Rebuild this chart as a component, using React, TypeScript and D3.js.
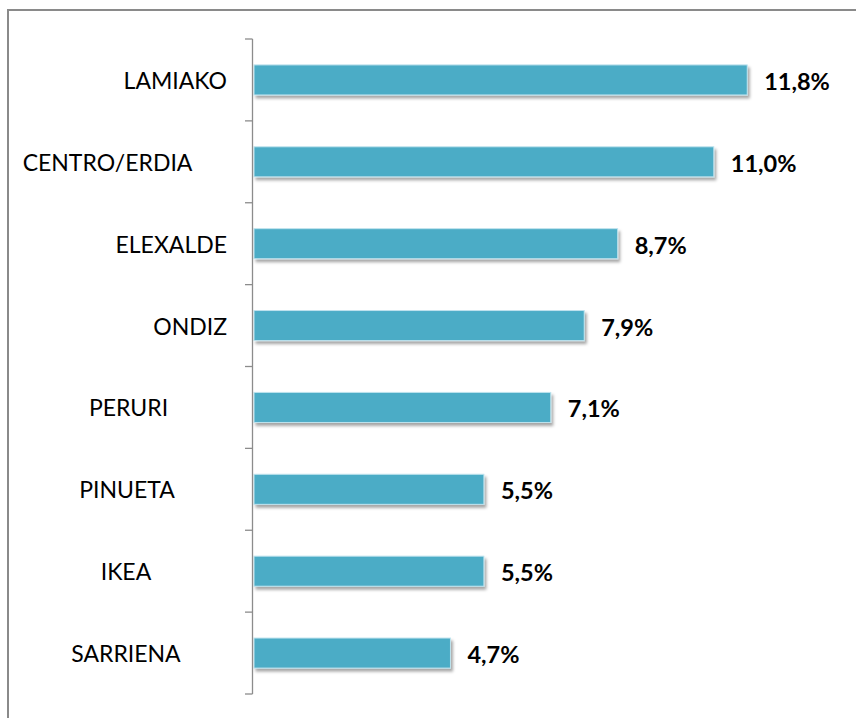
import React from "react";
import * as d3 from "d3";

const categories = [
  "LAMIAKO",
  "CENTRO/ERDIA      ",
  "ELEXALDE",
  "ONDIZ",
  "PERURI          ",
  "PINUETA         ",
  "IKEA             ",
  "SARRIENA        ",
];
const values = [11.8, 11.0, 8.7, 7.9, 7.1, 5.5, 5.5, 4.7];
const valueLabels = ["11,8%", "11,0%", "8,7%", "7,9%", "7,1%", "5,5%", "5,5%", "4,7%"];

const W = 856;
const H = 718;

export default function App() {
  const x = d3.scaleLinear().domain([0, 14]).range([254, 254 + 41.8 * 14]);
  const y = d3
    .scaleBand<number>()
    .domain(d3.range(categories.length))
    .range([39, 694])
    .paddingInner(0.633)
    .paddingOuter(0.3165);
  const step = y.step();
  const axisX = 252.5;
  const ticks = d3.range(categories.length + 1).map((i) => 39 + i * step);
  const font = "Lato, 'Open Sans', sans-serif";

  return (
    <svg
      width={W}
      height={H}
      style={{ position: "absolute", left: 0, top: 0, display: "block", background: "#fff" }}
    >
      <defs>
        <filter id="shadow" x="-5%" y="-30%" width="115%" height="180%">
          <feDropShadow dx="2" dy="3" stdDeviation="1.6" floodColor="#000" floodOpacity="0.35" />
        </filter>
      </defs>
      <rect x={8} y={10} width={W + 40} height={H + 40} fill="#fff" stroke="#8a8a8a" strokeWidth={2} />
      {values.map((v, i) => (
        <rect
          key={i}
          x={x(0)}
          y={y(i)!}
          width={x(v) - x(0)}
          height={y.bandwidth()}
          fill="#4BACC6"
          stroke="#bfe3ee"
          strokeWidth={1}
          filter="url(#shadow)"
        />
      ))}
      <line x1={axisX} x2={axisX} y1={39} y2={694} stroke="#8c8c8c" strokeWidth={1.3} />
      {ticks.map((t, i) => (
        <line key={i} x1={245} x2={axisX} y1={t} y2={t} stroke="#8c8c8c" strokeWidth={1.3} />
      ))}
      {categories.map((c, i) => (
        <text
          key={i}
          x={227}
          y={y(i)! + y.bandwidth() / 2}
          textAnchor="end"
          dominantBaseline="central"
          fontFamily={font}
          fontSize={23}
          fill="#000"
          style={{ whiteSpace: "pre" }}
        >
          {c}
        </text>
      ))}
      {values.map((v, i) => (
        <text
          key={i}
          x={x(v) + 17}
          y={y(i)! + y.bandwidth() / 2 + 1}
          dominantBaseline="central"
          fontFamily={font}
          fontWeight="bold"
          fontSize={23.5}
          fill="#000"
        >
          {valueLabels[i]}
        </text>
      ))}
    </svg>
  );
}
